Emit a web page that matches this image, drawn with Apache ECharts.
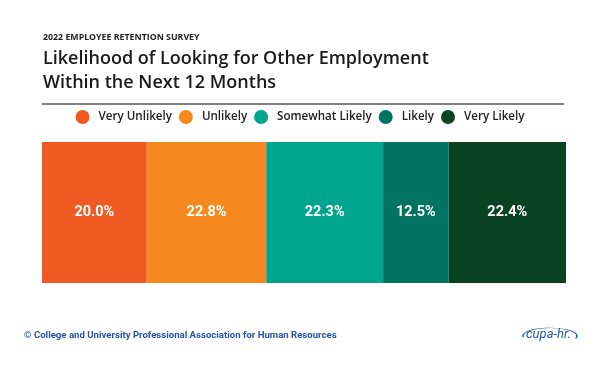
<!DOCTYPE html>
<html>
<head>
<meta charset="utf-8">
<script src="https://cdn.jsdelivr.net/npm/echarts@6/dist/echarts.min.js"></script>
<style>
html, body { margin: 0; padding: 0; background: #fff; }
#main { width: 600px; height: 375px; }
</style>
</head>
<body>
<div id="main"></div>
<script>
// data
var groups = ['Very Unlikely', 'Unlikely', 'Somewhat Likely', 'Likely', 'Very Likely'];
var shares = [20.0, 22.8, 22.3, 12.5, 22.4];
var colors = ['#f05a22', '#f5891f', '#00a58e', '#007461', '#0a4322'];

var series = [];
for (var i = 0; i < groups.length; i++) {
	series.push({
		name: groups[i],
		type: 'bar',
		stack: 'all',
		barWidth: '100%',
		data: [shares[i]],
		itemStyle: { color: colors[i] },
		label: {
			show: true,
			position: 'inside',
			color: '#fff',
			fontFamily: 'Roboto',
			fontWeight: 'bold',
			fontSize: 14.5,
			formatter: function (p) { return p.value.toFixed(1) + '%'; }
		}
	});
}

var chart = echarts.init(document.getElementById('main'));
chart.setOption({
	animation: false,
	color: colors,
	title: [{
		text: '2022 EMPLOYEE RETENTION SURVEY',
		left: 43, top: 33, padding: 0,
		textStyle: { fontFamily: 'Open Sans', fontWeight: 'bold', fontSize: 8.8, color: '#222' }
	}, {
		text: 'Likelihood of Looking for Other Employment\nWithin the Next 12 Months',
		left: 43, top: 47, padding: 0,
		textStyle: { fontFamily: 'Open Sans', fontWeight: 600, fontSize: 18, lineHeight: 24, color: '#1a1a1a' }
	}],
	legend: {
		data: groups,
		top: 110,
		left: 'center',
		padding: 0,
		icon: 'circle',
		itemWidth: 22,
		itemHeight: 14,
		itemGap: 7,
		textStyle: { fontFamily: 'Open Sans', fontWeight: 600, fontSize: 11.6, color: '#222' }
	},
	grid: { left: 42, right: 34, top: 142, bottom: 92 },
	xAxis: { type: 'value', min: 0, max: 100, show: false },
	yAxis: { type: 'category', data: [''], show: false },
	series: series,
	graphic: [{
		type: 'line',
		shape: { x1: 42, y1: 104, x2: 564, y2: 104 },
		style: { stroke: '#555', lineWidth: 1.5 }
	}, {
		type: 'text',
		left: 24, top: 331,
		style: {
			text: '© College and University Professional Association for Human Resources',
			fill: '#2456a4', font: 'bold 9.6px Roboto'
		}
	}, {
		type: 'arc',
		shape: { cx: 550, cy: 336, r: 27, startAngle: Math.PI * 0.95, endAngle: Math.PI * 2.1 },
		scaleY: 0.3, originX: 550, originY: 336,
		style: { stroke: '#2456a4', lineWidth: 1.5, fill: null }
	}, {
		type: 'text',
		left: 526, top: 328,
		style: { text: 'cupa-hr.', fill: '#2456a4', font: 'italic 13px Roboto' }
	}]
});
</script>
</body>
</html>
